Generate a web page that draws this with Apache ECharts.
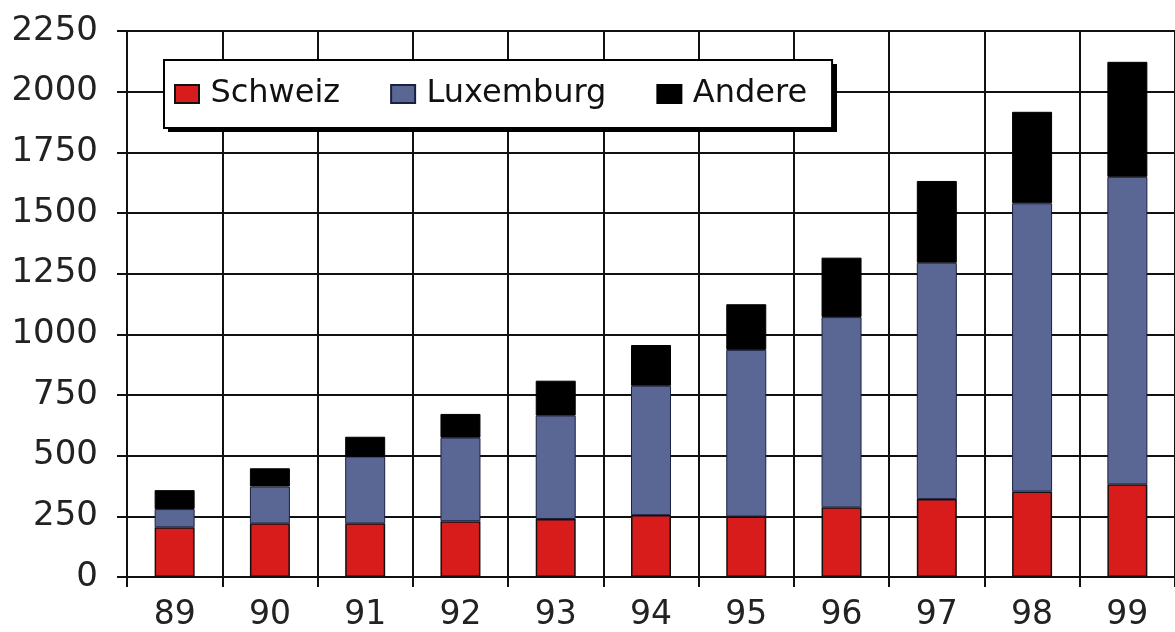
<!DOCTYPE html>
<html>
<head>
<meta charset="utf-8">
<script src="https://cdn.jsdelivr.net/npm/echarts@6/dist/echarts.min.js"></script>
<style>
html,body{margin:0;padding:0;background:#fff;}
#chart{width:1175px;height:632px;}
</style>
</head>
<body>
<div id="chart"></div>
<script>
const years = ['89','90','91','92','93','94','95','96','97','98','99'];
const schweiz = [205, 221, 221, 230, 239, 255, 249, 287, 321, 352, 382];
const luxemburg = [75, 152, 275, 344, 426, 533, 687, 784, 974, 1188, 1267];
const andere = [78, 75, 82, 98, 144, 168, 188, 245, 337, 377, 474];
const yTicks = [0, 250, 500, 750, 1000, 1250, 1500, 1750, 2000, 2250];

const FONT = 'DejaVu Sans';
const chart = echarts.init(document.getElementById('chart'), null, {renderer: 'canvas'});
const lineStyle = {color: '#111', width: 2};

chart.setOption({
  animation: false,
  backgroundColor: '#fff',
  grid: {left: 127, right: -7, top: 31, bottom: 52, containLabel: false},
  graphic: [{
    type: 'rect', z: 90, zlevel: 0,
    shape: {x: 168, y: 64, width: 669, height: 68},
    style: {fill: '#000'}
  }],
  legend: {
    left: 164, top: 60, z: 100,
    orient: 'horizontal',
    itemWidth: 24, itemHeight: 18, itemGap: 50,
    padding: [18, 25, 18, 10],
    backgroundColor: '#fff',
    borderColor: '#000', borderWidth: 2,
    formatter: name => '\u2009' + name,
    textStyle: {fontFamily: FONT, fontSize: 32, color: '#111'},
    data: [
      {name: 'Schweiz', icon: 'rect'},
      {name: 'Luxemburg', icon: 'rect'},
      {name: 'Andere', icon: 'rect'}
    ]
  },
  xAxis: {
    type: 'category',
    data: years,
    boundaryGap: true,
    axisLine: {show: true, lineStyle: lineStyle},
    axisTick: {show: true, length: 10, interval: 0, lineStyle: lineStyle},
    splitLine: {show: true, interval: 0, lineStyle: lineStyle},
    axisLabel: {fontFamily: FONT, fontSize: 33, color: '#222', margin: 22, interval: 0}
  },
  yAxis: {
    type: 'value',
    min: 0, max: 2250, interval: 250,
    axisLine: {show: true, lineStyle: lineStyle},
    axisTick: {show: true, length: 10, lineStyle: lineStyle},
    splitLine: {show: true, lineStyle: lineStyle},
    axisLabel: {
      fontFamily: FONT, fontSize: 34, color: '#222', margin: 29,
      padding: [0, 0, 5, 0],
      formatter: v => yTicks.includes(v) ? String(v) : ''
    }
  },
  series: [
    {
      name: 'Schweiz', type: 'bar', stack: 'total', data: schweiz, barWidth: 40,
      itemStyle: {color: '#d81c1c', borderColor: '#111', borderWidth: 1.5}
    },
    {
      name: 'Luxemburg', type: 'bar', stack: 'total', data: luxemburg, barWidth: 40,
      itemStyle: {color: '#5a6794', borderColor: '#1a2040', borderWidth: 1}
    },
    {
      name: 'Andere', type: 'bar', stack: 'total', data: andere, barWidth: 40,
      itemStyle: {color: '#000', borderColor: '#000', borderWidth: 1}
    }
  ]
});
</script>
</body>
</html>
